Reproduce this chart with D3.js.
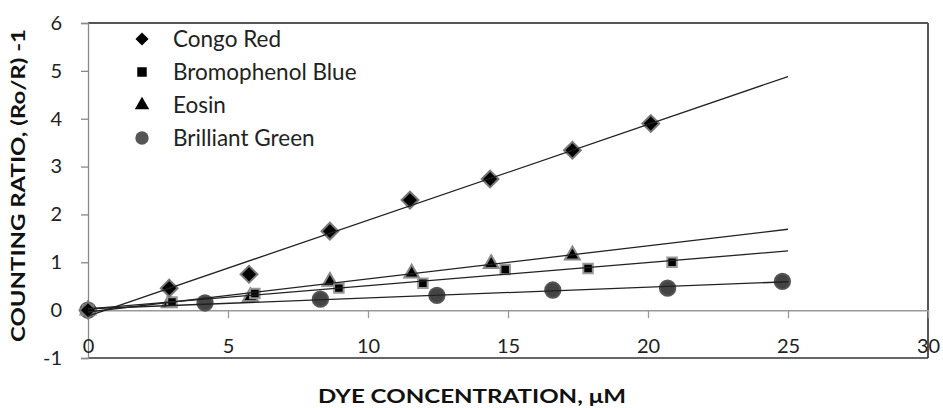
<!DOCTYPE html>
<html><head><meta charset="utf-8">
<script src="https://cdn.jsdelivr.net/npm/d3@7/dist/d3.min.js"></script>
<style>body{margin:0;background:#fff}svg{display:block}</style>
</head><body>
<svg id="c" width="943" height="408"></svg>
<script>
const seriesNames = ["Congo Red","Bromophenol Blue","Eosin","Brilliant Green"];
const congoX = [0,2.9,5.75,8.64,11.5,14.36,17.3,20.1];
const congoY = [0,0.46,0.75,1.65,2.3,2.74,3.34,3.9];
const bromoX = [0,3.0,5.96,8.96,11.96,14.9,17.86,20.86];
const bromoY = [0,0.17,0.35,0.46,0.56,0.85,0.87,1.0];
const eosinX = [0,2.9,5.8,8.64,11.56,14.4,17.3];
const eosinY = [0,0.15,0.28,0.6,0.77,0.97,1.15];
const greenX = [0,4.18,8.3,12.46,16.6,20.7,24.8];
const greenY = [0,0.15,0.23,0.31,0.42,0.46,0.6];
const xTicks = [0,5,10,15,20,25,30];
const yTicks = [-1,0,1,2,3,4,5,6];
const trendRange = [0,25];

const svg = d3.select("#c");
const x = d3.scaleLinear().domain([0,30]).range([88,928]);
const y = d3.scaleLinear().domain([-1,6]).range([358,23]);
const font = "Lato, 'Open Sans', sans-serif";

// frame
svg.append("line").attr("x1",x(0)).attr("x2",x(30)).attr("y1",y(6)).attr("y2",y(6)).attr("stroke","#555").attr("stroke-width",2);
svg.append("line").attr("x1",x(30)).attr("x2",x(30)).attr("y1",y(6)).attr("y2",y(-1)).attr("stroke","#555").attr("stroke-width",2);
svg.append("line").attr("x1",x(0)).attr("x2",x(30)).attr("y1",y(-1)).attr("y2",y(-1)).attr("stroke","#333").attr("stroke-width",1.5);

// y axis
const ya = svg.append("g").attr("transform",`translate(${x(0)},0)`)
  .call(d3.axisLeft(y).tickValues(yTicks).tickSize(7).tickPadding(19).tickFormat(d=>String(d)));
ya.select(".domain").attr("stroke","#888").attr("stroke-width",1.3);
ya.selectAll(".tick line").attr("stroke","#888").attr("stroke-width",1.3);
ya.selectAll("text").attr("font-family",font).attr("font-size",20).attr("fill","#222");

// x axis at y=0
const xa = svg.append("g").attr("transform",`translate(0,${y(0)})`)
  .call(d3.axisBottom(x).tickValues(xTicks).tickSize(8).tickFormat(d=>String(d)));
xa.select(".domain").attr("stroke","#999").attr("stroke-width",1.5);
xa.selectAll(".tick line").attr("stroke","#999").attr("stroke-width",1.3);
xa.selectAll(".tick").filter(d=>d===0||d===30).select("line").remove();
xa.selectAll("text").attr("font-family",font).attr("font-size",20).attr("fill","#222").attr("y",43).attr("dy",0);

// regression
function fit(xs,ys){
  const mx=d3.mean(xs), my=d3.mean(ys);
  let sxy=0,sxx=0; xs.forEach((v,i)=>{sxy+=(v-mx)*(ys[i]-my);sxx+=(v-mx)*(v-mx);});
  const b=sxy/sxx; return {b, a:my-b*mx};
}
const series = [
  {name:seriesNames[0], xs:congoX, ys:congoY, sym:d3.symbolDiamond2, size:180, lsize:110, fill:"#000", stroke:"#777", lfill:"#000"},
  {name:seriesNames[1], xs:bromoX, ys:bromoY, sym:d3.symbolSquare, size:90, lsize:90, fill:"#000", stroke:"#999", lfill:"#000"},
  {name:seriesNames[2], xs:eosinX, ys:eosinY, sym:d3.symbolTriangle, size:95, lsize:90, fill:"#000", stroke:"#888", lfill:"#000"},
  {name:seriesNames[3], xs:greenX, ys:greenY, sym:d3.symbolCircle, size:185, lsize:140, fill:"#444", stroke:"#555", lfill:"#555"}
];
series.slice().reverse().forEach(s=>{
  svg.append("g").selectAll("path").data(s.xs.map((v,i)=>[v,s.ys[i]])).join("path")
    .attr("d",d3.symbol(s.sym,s.size))
    .attr("transform",d=>`translate(${x(d[0])},${y(d[1])})`)
    .attr("fill",s.fill).attr("stroke",s.stroke).attr("stroke-width",2);
});
series.forEach(s=>{
  const f=fit(s.xs,s.ys);
  svg.append("line").attr("x1",x(trendRange[0])).attr("y1",y(f.a+f.b*trendRange[0]))
    .attr("x2",x(trendRange[1])).attr("y2",y(f.a+f.b*trendRange[1]))
    .attr("stroke","#222").attr("stroke-width",1.3);
});

// legend
const leg = svg.append("g");
series.forEach((s,i)=>{
  const yy = 39 + i*33;
  leg.append("path").attr("d",d3.symbol(s.sym,s.lsize)).attr("transform",`translate(142,${yy})`).attr("fill",s.lfill);
  leg.append("text").attr("x",173).attr("y",yy).attr("dy","0.36em").attr("font-family",font).attr("font-size",22.5).attr("fill","#222").text(s.name);
});

// axis titles
svg.append("text").attr("transform","translate(25,185.5) rotate(-90)").attr("text-anchor","middle")
  .attr("font-family",font).attr("font-weight","bold").attr("font-size",18).attr("fill","#111")
  .attr("textLength",313).attr("lengthAdjust","spacingAndGlyphs").text("COUNTING RATIO, (Ro/R) -1");
svg.append("text").attr("x",472).attr("y",403).attr("text-anchor","middle")
  .attr("font-family",font).attr("font-weight","bold").attr("font-size",19).attr("fill","#111")
  .attr("textLength",308).attr("lengthAdjust","spacingAndGlyphs").text("DYE CONCENTRATION, μM");
</script>
</body></html>
